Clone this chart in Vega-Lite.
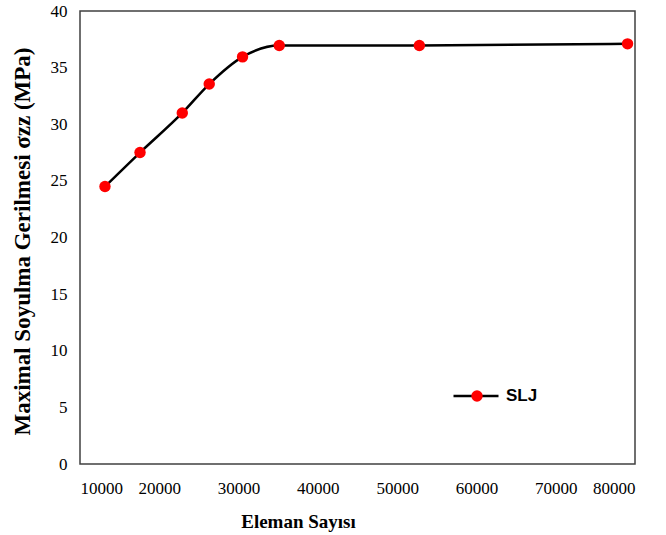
{
  "$schema": "https://vega.github.io/schema/vega-lite/v6.json",
  "width": 555,
  "height": 453,
  "autosize": {"type": "none"},
  "padding": {"left": 80, "top": 11, "right": 31, "bottom": 71},
  "background": "white",
  "config": {
    "view": {"stroke": "#404040", "strokeWidth": 1.5},
    "axis": {"grid": false, "domain": false, "ticks": false,
      "labelFont": "Liberation Serif", "labelFontSize": 17, "labelColor": "#000",
      "titleFont": "Liberation Serif", "titleFontSize": 19, "titleFontWeight": "bold", "titleColor": "#000"}
  },
  "data": {"values": [
    {"elements": 13150, "stress": 24.5, "series": "SLJ", "marker": "SLJ"},
    {"elements": 17570, "stress": 27.5, "series": "SLJ", "marker": "SLJ"},
    {"elements": 22900, "stress": 31.0, "series": "SLJ", "marker": "SLJ"},
    {"elements": 26300, "stress": 33.55, "series": "SLJ", "marker": "SLJ"},
    {"elements": 30500, "stress": 35.95, "series": "SLJ", "marker": "SLJ"},
    {"elements": 35130, "stress": 36.95, "series": "SLJ", "marker": "SLJ"},
    {"elements": 52800, "stress": 36.95, "series": "SLJ", "marker": "SLJ"},
    {"elements": 79060, "stress": 37.1, "series": "SLJ", "marker": "SLJ"}
  ]},
  "encoding": {
    "x": {"field": "elements", "type": "quantitative",
      "scale": {"domain": [10000, 80000], "nice": false, "zero": false},
      "axis": {"values": [10000, 20000, 30000, 40000, 50000, 60000, 70000, 80000], "format": "d",
        "labelPadding": 16, "title": "Eleman Sayısı", "titleX": 218, "titleY": 48, "titleAnchor": null}},
    "y": {"field": "stress", "type": "quantitative",
      "scale": {"domain": [0, 40], "nice": false},
      "axis": {"values": [0, 5, 10, 15, 20, 25, 30, 35, 40], "labelPadding": 13,
        "title": "Maximal Soyulma Gerilmesi σzz (MPa)", "titleFontSize": 23, "titleX": -58, "titleY": 230, "titleAngle": 270, "titleAlign": "center", "titleBaseline": "middle"}}
  },
  "layer": [
    {
      "mark": {"type": "line", "interpolate": "monotone", "strokeWidth": 2.5},
      "encoding": {
        "stroke": {"field": "series", "type": "nominal", "scale": {"range": ["#000000"]},
          "legend": {"orient": "none", "legendX": 372, "legendY": 361, "title": null, "padding": 0,
            "symbolType": "stroke", "symbolSize": 2025, "symbolStrokeWidth": 2.5, "symbolStrokeColor": "#000",
            "labelFont": "Liberation Sans", "labelFontSize": 17, "labelFontWeight": "bold", "labelColor": "#000", "labelOffset": 6}}
      }
    },
    {
      "mark": {"type": "point", "filled": true, "size": 130, "opacity": 1, "shape": "circle"},
      "encoding": {
        "fill": {"field": "marker", "type": "nominal", "scale": {"range": ["#ff0000"]},
          "legend": {"orient": "none", "legendX": 391, "legendY": 379, "title": null, "padding": 0,
            "symbolType": "circle", "symbolSize": 130, "symbolOpacity": 1, "symbolStrokeWidth": 0,
            "labelExpr": "''", "labelFontSize": 1}}
      }
    }
  ]
}
